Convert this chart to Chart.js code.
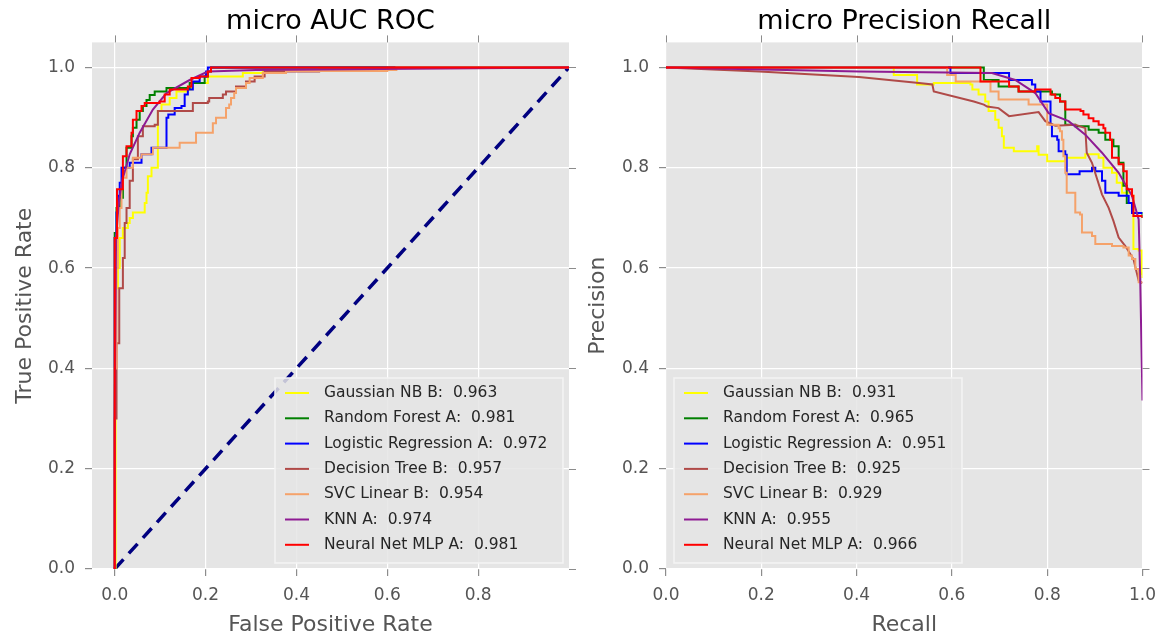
<!DOCTYPE html>
<html>
<head>
<meta charset="utf-8">
<script src="https://cdn.jsdelivr.net/npm/chart.js@4.4.0/dist/chart.umd.min.js"></script>
<style>
  body { margin: 0; background: #fff; }
  #wrap { position: relative; width: 1165px; height: 639px; }
  canvas { position: absolute; top: 0; }
  #roc { left: 0; }
  #pr { left: 582px; }
</style>
</head>
<body>
<div id="wrap">
  <canvas id="roc" width="582" height="639"></canvas>
  <canvas id="pr" width="583" height="639"></canvas>
</div>
<script>
// legend names and scores
const models = ['Gaussian NB B', 'Random Forest A', 'Logistic Regression A', 'Decision Tree B', 'SVC Linear B', 'KNN A', 'Neural Net MLP A'];
const rocAuc = [0.963, 0.981, 0.972, 0.957, 0.954, 0.974, 0.981];
const prAuc = [0.931, 0.965, 0.951, 0.925, 0.929, 0.955, 0.966];

const yTicks = [0, 0.2, 0.4, 0.6, 0.8, 1.0];
const rocXTicks = [0, 0.2, 0.4, 0.6, 0.8];
const prXTicks = [0, 0.2, 0.4, 0.6, 0.8, 1.0];

// ROC curves: fpr where the tpr jumps, tpr after the jump
const rocFprGnb = [0, 0.002, 0.007, 0.011, 0.018, 0.029, 0.033, 0.04, 0.066, 0.07, 0.073, 0.081, 0.095, 0.103, 0.121, 0.136, 0.161, 0.169, 0.205, 0.282, 0.326, 0.45, 1];
const rocTprGnb = [0, 0.56, 0.60, 0.66, 0.68, 0.69, 0.70, 0.711, 0.73, 0.75, 0.783, 0.80, 0.913, 0.926, 0.939, 0.952, 0.956, 0.969, 0.982, 0.989, 0.995, 1, 1];
const rocFprRf = [0, 0, 0.004, 0.011, 0.018, 0.026, 0.037, 0.04, 0.048, 0.055, 0.062, 0.07, 0.077, 0.088, 0.114, 0.165, 0.198, 0.205, 0.212, 1];
const rocTprRf = [0, 0.67, 0.72, 0.74, 0.80, 0.84, 0.863, 0.88, 0.896, 0.913, 0.923, 0.935, 0.945, 0.952, 0.959, 0.969, 0.982, 0.992, 1, 1];
const rocFprLr = [0, 0, 0.004, 0.007, 0.011, 0.015, 0.033, 0.059, 0.081, 0.114, 0.118, 0.132, 0.147, 0.154, 0.161, 0.172, 0.187, 0.201, 0.205, 1];
const rocTprLr = [0, 0.66, 0.711, 0.744, 0.77, 0.80, 0.81, 0.827, 0.84, 0.90, 0.906, 0.919, 0.923, 0.946, 0.956, 0.972, 0.982, 0.992, 1, 1];
const rocFprDt = [0, 0, 0.004, 0.01, 0.018, 0.022, 0.026, 0.033, 0.04, 0.051, 0.062, 0.088, 0.095, 0.161, 0.172, 0.205, 0.208, 0.238, 0.245, 0.267, 0.289, 0.308, 0.33, 0.45, 0.6, 1];
const rocTprDt = [0, 0.3, 0.45, 0.56, 0.62, 0.69, 0.72, 0.774, 0.817, 0.863, 0.883, 0.886, 0.913, 0.913, 0.929, 0.932, 0.939, 0.946, 0.952, 0.962, 0.972, 0.982, 0.992, 0.996, 1, 1];
const rocFprSvc = [0, 0, 0.004, 0.007, 0.011, 0.015, 0.018, 0.026, 0.04, 0.059, 0.084, 0.143, 0.179, 0.216, 0.223, 0.245, 0.252, 0.256, 0.263, 0.267, 0.289, 0.297, 0.326, 0.377, 0.6, 0.62, 1];
const rocTprSvc = [0, 0.4, 0.60, 0.68, 0.72, 0.76, 0.78, 0.80, 0.82, 0.827, 0.84, 0.85, 0.87, 0.889, 0.90, 0.919, 0.926, 0.939, 0.949, 0.959, 0.969, 0.979, 0.989, 0.993, 0.995, 1, 1];
const rocFprKnn = [0, 0, 0.003, 0.008, 0.015, 0.033, 0.055, 0.084, 0.114, 0.165, 0.205, 0.311, 1];
const rocTprKnn = [0, 0.3, 0.66, 0.72, 0.77, 0.827, 0.87, 0.916, 0.949, 0.975, 0.992, 0.995, 1];
const rocFprMlp = [0, 0, 0.005, 0.018, 0.026, 0.037, 0.04, 0.048, 0.059, 0.066, 0.099, 0.11, 0.121, 0.161, 0.169, 0.187, 0.205, 0.212, 1];
const rocTprMlp = [0, 0.66, 0.757, 0.823, 0.843, 0.870, 0.896, 0.913, 0.923, 0.929, 0.932, 0.946, 0.956, 0.962, 0.979, 0.982, 0.992, 1, 1];
const chanceX = [0, 1];
const chanceY = [0, 1];

// precision / recall curves
const prRecGnb = [0, 0.478, 0.527, 0.562, 0.639, 0.643, 0.656, 0.67, 0.677, 0.691, 0.698, 0.705, 0.709, 0.73, 0.779, 0.782, 0.80, 0.838, 0.88, 0.908, 0.918, 0.936, 0.946, 0.957, 0.978, 0.981, 0.992, 0.999, 1];
const prPreGnb = [1, 0.985, 0.966, 0.969, 0.966, 0.956, 0.946, 0.932, 0.913, 0.896, 0.88, 0.863, 0.84, 0.833, 0.843, 0.826, 0.813, 0.82, 0.827, 0.82, 0.80, 0.79, 0.77, 0.75, 0.744, 0.638, 0.635, 0.588, 0.58];
const prRecRf = [0, 0.667, 0.698, 0.74, 0.81, 0.827, 0.838, 0.859, 0.887, 0.908, 0.922, 0.939, 0.95, 0.96, 0.967, 0.978, 1];
const prPreRf = [1, 0.975, 0.962, 0.952, 0.946, 0.932, 0.886, 0.883, 0.876, 0.87, 0.856, 0.843, 0.81, 0.764, 0.73, 0.71, 0.70];
const prRecLr = [0, 0.597, 0.72, 0.768, 0.775, 0.786, 0.807, 0.81, 0.821, 0.824, 0.838, 0.841, 0.868, 0.894, 0.901, 0.915, 0.922, 0.95, 0.971, 0.978, 1];
const prPreLr = [1, 0.989, 0.975, 0.966, 0.952, 0.932, 0.886, 0.863, 0.856, 0.833, 0.826, 0.787, 0.793, 0.80, 0.793, 0.774, 0.75, 0.744, 0.73, 0.71, 0.71];
const prRecDt = [0, 0.196, 0.405, 0.531, 0.559, 0.562, 0.646, 0.667, 0.674, 0.698, 0.72, 0.782, 0.796, 0.817, 0.859, 0.88, 0.883, 0.894, 0.915, 0.929, 0.939, 0.95, 0.964, 0.981, 0.992, 1];
const prPreDt = [1, 0.992, 0.981, 0.969, 0.966, 0.952, 0.932, 0.926, 0.922, 0.919, 0.903, 0.911, 0.893, 0.884, 0.886, 0.879, 0.83, 0.81, 0.747, 0.72, 0.694, 0.661, 0.644, 0.618, 0.575, 0.57];
const prRecSvc = [0, 0.59, 0.608, 0.681, 0.698, 0.761, 0.80, 0.824, 0.827, 0.831, 0.834, 0.838, 0.841, 0.859, 0.869, 0.873, 0.894, 0.901, 0.936, 0.96, 0.971, 0.978, 0.985, 0.992, 1];
const prPreSvc = [1, 0.985, 0.972, 0.952, 0.936, 0.926, 0.886, 0.879, 0.873, 0.856, 0.823, 0.79, 0.75, 0.711, 0.707, 0.671, 0.664, 0.648, 0.644, 0.641, 0.625, 0.618, 0.598, 0.572, 0.572];
const prRecKnn = [0, 0.405, 0.684, 0.733, 0.775, 0.803, 0.845, 0.88, 0.915, 0.95, 0.978, 0.992, 0.995, 1];
const prPreKnn = [1, 0.992, 0.989, 0.975, 0.949, 0.909, 0.893, 0.866, 0.83, 0.79, 0.744, 0.697, 0.59, 0.336];
const prRecMlp = [0, 0.66, 0.72, 0.74, 0.775, 0.807, 0.817, 0.827, 0.838, 0.87, 0.876, 0.887, 0.897, 0.908, 0.918, 0.922, 0.932, 0.936, 0.95, 0.96, 0.967, 0.978, 0.981, 1];
const prPreMlp = [1, 0.972, 0.962, 0.952, 0.956, 0.946, 0.939, 0.932, 0.916, 0.913, 0.906, 0.899, 0.893, 0.886, 0.879, 0.87, 0.856, 0.82, 0.807, 0.793, 0.757, 0.744, 0.704, 0.70];

const colors = ['#ffff00', '#008000', '#0000ff', '#b04a48', '#f5a26a', '#8e1b93', '#ff0000'];
// 'before' = run across to the new x first, then jump to the new y
const rocSteps = ['before', 'before', 'before', 'before', 'before', false, 'before'];
const prSteps = ['before', 'before', 'before', false, 'before', false, 'before'];

const rocX = [rocFprGnb, rocFprRf, rocFprLr, rocFprDt, rocFprSvc, rocFprKnn, rocFprMlp];
const rocY = [rocTprGnb, rocTprRf, rocTprLr, rocTprDt, rocTprSvc, rocTprKnn, rocTprMlp];
const prX = [prRecGnb, prRecRf, prRecLr, prRecDt, prRecSvc, prRecKnn, prRecMlp];
const prY = [prPreGnb, prPreRf, prPreLr, prPreDt, prPreSvc, prPreKnn, prPreMlp];

const FONT = '"DejaVu Sans", "Liberation Sans", sans-serif';
Chart.defaults.font.family = FONT;

const pairs = (xs, ys) => xs.map((x, i) => ({ x: x, y: ys[i] }));

function curveSets(xs, ys, steps) {
  return models.map((name, i) => ({
    label: name,
    data: pairs(xs[i], ys[i]),
    borderColor: colors[i],
    borderWidth: 2,
    pointRadius: 0,
    fill: false,
    tension: 0,
    stepped: steps[i],
    order: models.length - i
  }));
}

// grey panel, outer ticks on top/right, legend box inside the axes
const panelPlugin = {
  id: 'panel',
  beforeDraw(chart) {
    const { ctx, chartArea: a } = chart;
    ctx.save();
    ctx.fillStyle = '#e5e5e5';
    ctx.fillRect(a.left, a.top, a.width, a.height);
    ctx.restore();
  },
  afterDraw(chart, args, opts) {
    const { ctx, chartArea: a, scales } = chart;
    ctx.save();
    ctx.strokeStyle = '#8c8c8c';
    ctx.lineWidth = 1;
    ctx.beginPath();
    scales.x.ticks.forEach(t => {
      const px = Math.round(scales.x.getPixelForValue(t.value)) + 0.5;
      ctx.moveTo(px, a.top - 7);
      ctx.lineTo(px, a.top);
    });
    scales.y.ticks.forEach(t => {
      const py = Math.round(scales.y.getPixelForValue(t.value)) + 0.5;
      ctx.moveTo(a.right, py);
      ctx.lineTo(a.right + 7, py);
    });
    ctx.stroke();

    // legend
    const bx = a.left + opts.dx, by = opts.top, bw = 288, bh = 185;
    ctx.fillStyle = 'rgba(229,229,229,0.85)';
    ctx.fillRect(bx, by, bw, bh);
    ctx.strokeStyle = '#f4f4f4';
    ctx.lineWidth = 1.5;
    ctx.strokeRect(bx, by, bw, bh);
    ctx.font = '15.5px ' + FONT;
    ctx.textBaseline = 'middle';
    ctx.textAlign = 'left';
    models.forEach((name, i) => {
      const cy = by + 15 + i * 25.3;
      ctx.strokeStyle = colors[i];
      ctx.lineWidth = 2;
      ctx.beginPath();
      ctx.moveTo(bx + 10, cy);
      ctx.lineTo(bx + 34, cy);
      ctx.stroke();
      ctx.fillStyle = '#262626';
      ctx.fillText(name + ':  ' + opts.scores[i].toFixed(3), bx + 49, cy);
    });
    ctx.restore();
  }
};

function axisOpts(min, max, ticks, title, size, titlePad, fit) {
  return {
    type: 'linear',
    min: min,
    max: max,
    afterBuildTicks: s => { s.ticks = ticks.map(v => ({ value: v })); },
    afterFit: fit,
    grid: { color: '#ffffff', lineWidth: 1.2, tickColor: '#8c8c8c', tickLength: 7 },
    border: { display: false },
    ticks: {
      color: '#555555',
      font: { size: 17 },
      padding: size,
      maxRotation: 0,
      callback: v => v.toFixed(1)
    },
    title: { display: true, text: title, color: '#555555', font: { size: 22 }, padding: titlePad }
  };
}

function makeChart(id, titleText, datasets, xMin, xTicks, xTitle, yTitle, yTitlePad, yWidth, rightPad, legendDx, scores) {
  return new Chart(document.getElementById(id).getContext('2d'), {
    type: 'line',
    data: { datasets: datasets },
    options: {
      responsive: false,
      animation: false,
      events: [],
      layout: { padding: { left: 0, right: rightPad, top: 0, bottom: 0 } },
      scales: {
        x: axisOpts(xMin, 1, xTicks, xTitle, 9, { top: 0, bottom: 1 }, s => { s.height = 70; }),
        y: axisOpts(0, 1.05, yTicks, yTitle, 10, { top: yTitlePad, bottom: 0 }, s => { s.width = yWidth; })
      },
      plugins: {
        legend: { display: false },
        tooltip: { enabled: false },
        title: {
          display: true,
          text: titleText,
          color: '#000000',
          fullSize: false,
          font: { size: 27, weight: 'normal' },
          padding: { top: 6, bottom: 4 }
        },
        panel: { dx: legendDx, top: 378, scores: scores }
      }
    },
    plugins: [panelPlugin]
  });
}

const rocSets = curveSets(rocX, rocY, rocSteps);
rocSets.push({
  label: 'chance',
  data: pairs(chanceX, chanceY),
  borderColor: '#000080',
  borderWidth: 3.5,
  borderDash: [13, 8],
  pointRadius: 0,
  fill: false,
  order: 20
});

makeChart('roc', 'micro AUC ROC', rocSets, -0.05, rocXTicks, 'False Positive Rate', 'True Positive Rate', 12, 92, 13, 183, rocAuc);
makeChart('pr', 'micro Precision Recall', curveSets(prX, prY, prSteps), 0, prXTicks, 'Recall', 'Precision', 3, 84, 21, 8, prAuc);
</script>
</body>
</html>
